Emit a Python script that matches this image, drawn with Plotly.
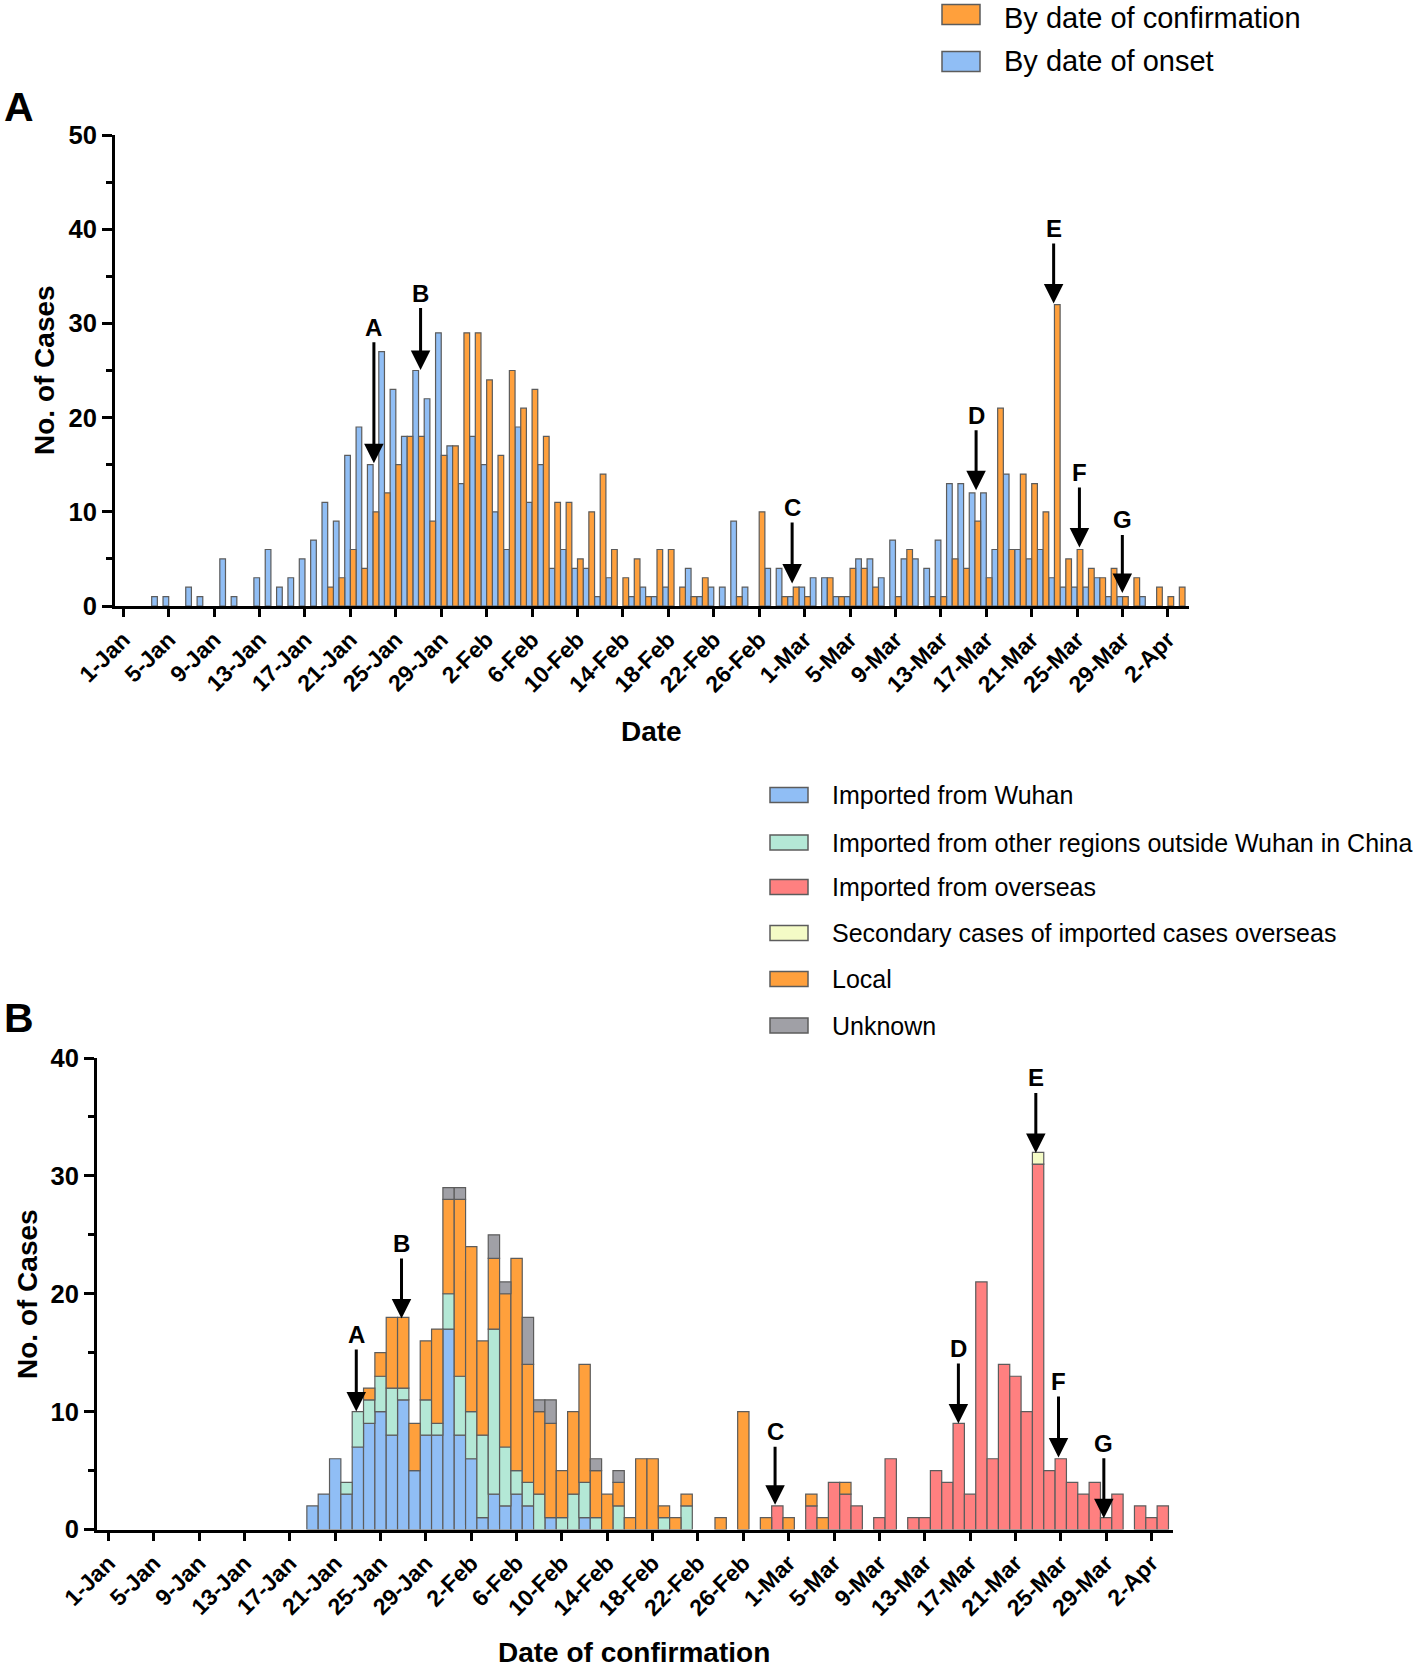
import numpy as np
import plotly.graph_objects as go

W, H = 1418, 1668
FONT = "Liberation Sans"

# ---------------- data ----------------
# day index 0 = 1-Jan-2020 ... 93 = 3-Apr-2020
days = list(range(94))
tick_days = list(range(0, 93, 4))
tick_labels = ["1-Jan", "5-Jan", "9-Jan", "13-Jan", "17-Jan", "21-Jan", "25-Jan", "29-Jan",
               "2-Feb", "6-Feb", "10-Feb", "14-Feb", "18-Feb", "22-Feb", "26-Feb",
               "1-Mar", "5-Mar", "9-Mar", "13-Mar", "17-Mar", "21-Mar", "25-Mar", "29-Mar", "2-Apr"]

# Panel A
onset = [0, 0, 0, 1, 1, 0, 2, 1, 0, 5,
         1, 0, 3, 6, 2, 3, 5, 7, 11, 9,
         16, 19, 15, 27, 23, 18, 25, 22, 29, 17,
         13, 18, 15, 10, 6, 19, 11, 15, 4, 6,
         4, 4, 1, 3, 0, 1, 2, 1, 2, 0,
         4, 1, 2, 2, 9, 2, 0, 4, 4, 1,
         2, 3, 3, 1, 1, 5, 5, 3, 7, 5,
         5, 4, 7, 13, 13, 12, 12, 6, 14, 6,
         5, 6, 3, 2, 2, 2, 3, 1, 1, 0,
         1, 0, 0, 0]
confirmation = [0] * 18 + [2, 3,
                6, 4, 10, 12, 15, 18, 18, 9, 16, 17,
                29, 29, 24, 16, 25, 21, 23, 18, 11, 11,
                5, 10, 14, 6, 3, 5, 1, 6, 6, 2,
                1, 3, 0, 0, 1, 0, 10, 0, 1, 2,
                1, 0, 3, 1, 4, 4, 2, 0, 1, 6,
                0, 1, 1, 5, 4, 9, 3, 21, 6, 14,
                13, 10, 32, 5, 6, 4, 3, 4, 1, 3,
                0, 2, 1, 2]

# Panel B (by date of confirmation, by source)
wuhan = [0] * 18 + [2, 3,
         6, 3, 7, 9, 10, 8, 11, 5, 8, 8,
         17, 8, 6, 1, 3, 2, 3, 2, 0, 1,
         0, 0, 1] + [0] * 51
other_china = [0] * 21 + [1, 3, 2, 3, 4, 1, 0, 3, 1,
               3, 5, 4, 7, 14, 5, 2, 2, 3, 0,
               1, 3, 3, 1, 0, 2, 0, 0, 0, 1,
               0, 2] + [0] * 42
overseas = [0] * 59 + [2,
            0, 0, 2, 0, 4, 3, 2, 0, 1, 6,
            0, 1, 1, 5, 4, 9, 3, 21, 6, 14,
            13, 10, 31, 5, 6, 4, 3, 4, 1, 3,
            0, 2, 1, 2]
secondary = [0] * 82 + [1] + [0] * 11
local = [0] * 23 + [1, 2, 6, 6, 4, 5, 8,
         8, 15, 14, 8, 6, 13, 18, 10, 7, 8,
         4, 7, 10, 4, 3, 2, 1, 6, 6, 1,
         1, 1, 0, 0, 1, 0, 10, 0, 1, 0,
         1, 0, 1, 1, 0, 1] + [0] * 28
unknown = [0] * 30 + [1, 1, 0, 0, 2, 1, 0, 4, 1, 2,
           0, 0, 0, 1, 0, 1] + [0] * 48

# arrow annotations (letter, day, value at arrow tip, pixel offset of letter)
arrowA_labels = ["A", "B", "C", "D", "E", "F", "G"]
arrowA_days = [22.07, 26.18, 58.9, 75.1, 81.93, 84.2, 87.98]
arrowA_vals = [15.15, 25.05, 2.4, 12.3, 32.1, 6.2, 1.38]
arrowA_off = [-136, -77, -76, -75, -75, -75, -73]

arrowB_labels = ["A", "B", "C", "D", "E", "F", "G"]
arrowB_days = [21.86, 25.85, 58.8, 74.97, 81.8, 83.8, 87.8]
arrowB_vals = [10.0, 17.9, 2.1, 9.0, 31.95, 6.1, 0.95]
arrowB_off = [-77, -75, -73, -75, -75, -76, -75]

# ---------------- styles ----------------
C_BLUE = "#90BEF5"
C_ORANGE = "#FFA03C"
C_GREEN = "#B4E8D6"
C_RED = "#FF8080"
C_YELLOW = "#F4FBC6"
C_GRAY = "#A0A0A6"
EDGE = "#5C5C5C"


def nz(v):
    return [x if x else None for x in v]


fig = go.Figure()

# Panel A: side-by-side bars
fig.add_trace(go.Bar(x=days, y=nz(onset), offset=-0.5, width=0.5, name="By date of onset",
                     marker=dict(color=C_BLUE, line=dict(color=EDGE, width=1.2)),
                     xaxis="x", yaxis="y", showlegend=False))
fig.add_trace(go.Bar(x=days, y=nz(confirmation), offset=0.0, width=0.5, name="By date of confirmation",
                     marker=dict(color=C_ORANGE, line=dict(color=EDGE, width=1.2)),
                     xaxis="x", yaxis="y", showlegend=False))

# Panel B: stacked bars
series_B = [("Imported from Wuhan", wuhan, C_BLUE),
            ("Imported from other regions outside Wuhan in China", other_china, C_GREEN),
            ("Imported from overseas", overseas, C_RED),
            ("Secondary cases of imported cases overseas", secondary, C_YELLOW),
            ("Local", local, C_ORANGE),
            ("Unknown", unknown, C_GRAY)]
base = np.zeros(len(days))
for name, vals, col in series_B:
    v = np.array(vals, dtype=float)
    fig.add_trace(go.Bar(x=days, y=nz(vals), base=base.tolist(), offset=-0.5, width=1.0, name=name,
                         marker=dict(color=col, line=dict(color=EDGE, width=1.2)),
                         xaxis="x2", yaxis="y2", showlegend=False))
    base = base + v

tickfont = dict(family=FONT, size=25.5, color="black", weight="bold")
xtickfont = dict(family=FONT, size=23, color="black", weight="bold")
titlefont = dict(family=FONT, size=28, color="black", weight="bold")


def xax(domain, rng, anchor):
    return dict(domain=domain, range=rng, anchor=anchor, tickmode="array", tickvals=tick_days,
                ticktext=tick_labels, tickangle=-45, ticks="outside", ticklen=8, tickwidth=3,
                tickcolor="black", showline=True, linewidth=3, linecolor="black", showgrid=False,
                zeroline=False, tickfont=xtickfont, automargin=False)


def yax(domain, rng, anchor):
    return dict(domain=domain, range=rng, anchor=anchor, dtick=10, ticks="outside", ticklen=10,
                tickwidth=3, tickcolor="black", showline=True, linewidth=3, linecolor="black",
                showgrid=False, zeroline=False, tickfont=tickfont, automargin=False,
                minor=dict(dtick=5, ticklen=6, tickwidth=3, tickcolor="black", ticks="outside", showgrid=False))


annotations = []
shapes = []

for lab, d, v, off in zip(arrowA_labels, arrowA_days, arrowA_vals, arrowA_off):
    annotations.append(dict(x=d, y=v, xref="x", yref="y", text=lab, showarrow=True, ax=0, ay=off,
                            arrowhead=2, arrowsize=1.3, arrowwidth=3, arrowcolor="black", standoff=0,
                            font=dict(family=FONT, size=24, color="black", weight="bold")))
for lab, d, v, off in zip(arrowB_labels, arrowB_days, arrowB_vals, arrowB_off):
    annotations.append(dict(x=d, y=v, xref="x2", yref="y2", text=lab, showarrow=True, ax=0, ay=off,
                            arrowhead=2, arrowsize=1.3, arrowwidth=3, arrowcolor="black", standoff=0,
                            font=dict(family=FONT, size=24, color="black", weight="bold")))

# panel letters
for lab, yy in [("A", 107), ("B", 1018)]:
    annotations.append(dict(x=19 / W, y=1 - yy / H, xref="paper", yref="paper", text=lab, showarrow=False,
                            xanchor="center", yanchor="middle",
                            font=dict(family=FONT, size=41, color="black", weight="bold")))

# axis titles
for txt, xx, yy, ang in [("No. of Cases", 45, 370, -90), ("Date", 651, 732, 0),
                         ("No. of Cases", 27, 1294, -90), ("Date of confirmation", 634, 1652, 0)]:
    annotations.append(dict(x=xx / W, y=1 - yy / H, xref="paper", yref="paper", text=txt, showarrow=False,
                            xanchor="center", yanchor="middle", textangle=ang, font=titlefont))

# legend A
legA = [("By date of confirmation", C_ORANGE, 14.5), ("By date of onset", C_BLUE, 61.5)]
for name, col, yc in legA:
    shapes.append(dict(type="rect", xref="paper", yref="paper", x0=942 / W, x1=980 / W,
                       y0=1 - (yc + 10) / H, y1=1 - (yc - 10) / H, fillcolor=col,
                       line=dict(color=EDGE, width=1.5)))
    annotations.append(dict(x=1002 / W, y=1 - max(yc, 18) / H, xref="paper", yref="paper", text=name,
                            showarrow=False, xanchor="left", yanchor="middle",
                            font=dict(family=FONT, size=29, color="black")))

# legend B
legB_y = [795, 842.5, 887, 933, 979, 1025.5]
for (name, vals, col), yc in zip(series_B, legB_y):
    shapes.append(dict(type="rect", xref="paper", yref="paper", x0=770 / W, x1=808 / W,
                       y0=1 - (yc + 7.5) / H, y1=1 - (yc - 7.5) / H, fillcolor=col,
                       line=dict(color=EDGE, width=1.5)))
    annotations.append(dict(x=830 / W, y=1 - yc / H, xref="paper", yref="paper", text=name, showarrow=False,
                            xanchor="left", yanchor="middle", font=dict(family=FONT, size=25, color="black")))

fig.update_layout(
    width=W, height=H, margin=dict(l=0, r=0, t=0, b=0, autoexpand=False),
    paper_bgcolor="white", plot_bgcolor="white", barmode="overlay", showlegend=False,
    font=dict(family=FONT, color="black"),
    xaxis=xax([115 / W, 1189 / W], [-0.73, 93.85], "y"),
    yaxis=yax([1 - 606 / H, 1 - 135 / H], [0, 50], "x"),
    xaxis2=xax([97 / W, 1173 / W], [-1.01, 93.9], "y2"),
    yaxis2=yax([1 - 1529.5 / H, 1 - 1058 / H], [0, 40], "x2"),
    annotations=annotations, shapes=shapes,
)

fig.write_html("out.html", config={"displayModeBar": False},
               post_script="document.body.style.margin='0px';")
